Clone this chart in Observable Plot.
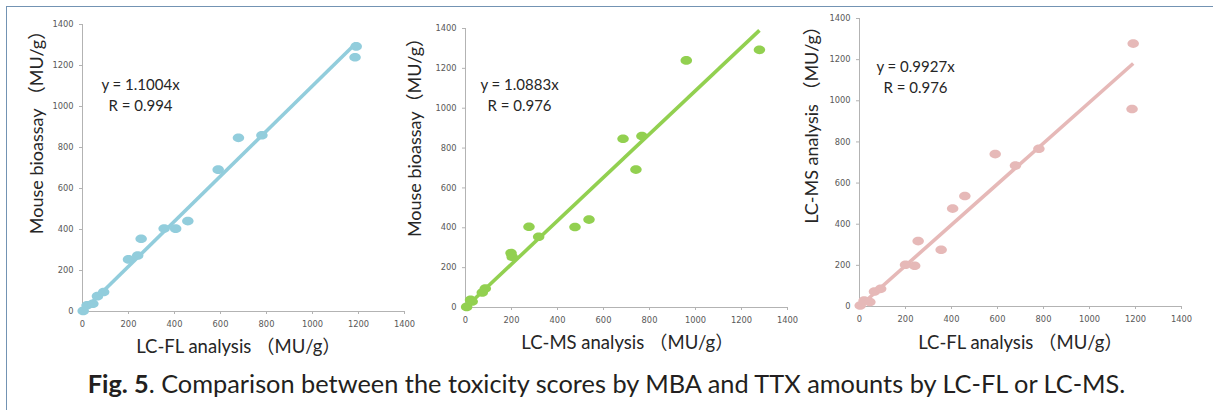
<!DOCTYPE html>
<html>
<head>
<meta charset="utf-8">
<script src="https://cdn.jsdelivr.net/npm/d3@7"></script>
<script src="https://cdn.jsdelivr.net/npm/@observablehq/plot@0.6"></script>
<style>
  html, body { margin: 0; padding: 0; background: #fff; }
  #wrap { position: relative; width: 1213px; height: 410px; overflow: hidden; }
  #frame { position: absolute; left: 6px; top: 6px; width: 1220px; height: 420px;
           border-top: 1.5px solid #7393b3; border-left: 1.5px solid #7393b3; }
  .panel { position: absolute; left: 0; top: 0; }
  #caption { position: absolute; left: 0; top: 368px; width: 1213px; height: 30px; text-align: center;
             font-family: Lato, "Open Sans", sans-serif; font-size: 24px; line-height: 30px; color: #231f20; white-space: nowrap; }
</style>
</head>
<body>
<div id="wrap">
  <div id="frame"></div>
  <div id="caption"><span id="capText"><b>Fig. 5</b>. Comparison between the toxicity scores by MBA and TTX amounts by LC-FL or LC-MS.</span></div>
</div>
<script>
// ---- data (samples) ----
const lcfl = [3, 20, 45, 65, 92, 200, 240, 255, 355, 405, 458, 590, 678, 780, 1185, 1190];
const lcms = [5, 29, 22, 73, 86, 203, 198, 318, 276, 476, 537, 741, 685, 767, 960, 1278];
const mba  = [3, 30, 38, 75, 95, 254, 273, 355, 405, 404, 441, 692, 847, 860, 1240, 1293];
const tickValues = [0, 200, 400, 600, 800, 1000, 1200, 1400];
const slopes = [1.1004, 1.0883, 0.9927];
const rValues = ["0.994", "0.976", "0.976"];
const xLabels = ["LC-FL analysis （MU/g）", "LC-MS analysis （MU/g）", "LC-FL analysis （MU/g）"];
const yLabels = ["Mouse bioassay （MU/g）", "Mouse bioassay（MU/g）", "LC-MS analysis （MU/g）"];
const colors = ["#92cddc", "#92d050", "#e6b9b8"];
const xSeries = [lcfl, lcms, lcfl];
const ySeries = [mba, mba, lcms];

// ---- layout ----
const W = 1213, H = 362;
const layouts = [
  {ml: 82,  mr: W - 404,  mt: 24, mb: H - 311, ylx: -45, yly: -40, xlx: -5, xly: 36, ax: 58, ay: 69},
  {ml: 465, mr: W - 787,  mt: 28, mb: H - 307, ylx: -50, yly: -35, xlx: 1,  xly: 36, ax: 54, ay: 65.5},
  {ml: 859, mr: W - 1181, mt: 18, mb: H - 306, ylx: -47, yly: -42, xlx: 0,  xly: 37, ax: 56, ay: 57.5}
];

const ellipse = {
  draw(ctx, size) {
    const r = Math.sqrt(size / Math.PI), rx = r * 1.2, ry = r * 0.9, k = 0.5523;
    ctx.moveTo(rx, 0);
    ctx.bezierCurveTo(rx, ry * k, rx * k, ry, 0, ry);
    ctx.bezierCurveTo(-rx * k, ry, -rx, ry * k, -rx, 0);
    ctx.bezierCurveTo(-rx, -ry * k, -rx * k, -ry, 0, -ry);
    ctx.bezierCurveTo(rx * k, -ry, rx, -ry * k, rx, 0);
    ctx.closePath();
  }
};

const labelFont = "Lato, 'Noto Sans CJK JP', sans-serif";
const wrap = document.getElementById("wrap");

layouts.forEach((L, i) => {
  const xs = xSeries[i], ys = ySeries[i];
  const pts = xs.map((x, j) => ({x, y: ys[j]}));
  const xmax = d3.max(xs);
  const trend = [{x: 0, y: 0}, {x: xmax, y: slopes[i] * xmax}];
  const chart = Plot.plot({
    width: W, height: H,
    marginLeft: L.ml, marginRight: L.mr, marginTop: L.mt, marginBottom: L.mb,
    x: {domain: [0, 1400]},
    y: {domain: [0, 1400]},
    style: {fontFamily: "'DejaVu Sans', sans-serif", fontSize: "8.3px", color: "#595959", background: "transparent", overflow: "visible"},
    marks: [
      Plot.ruleY([0], {stroke: "#b3b3b3", strokeWidth: 1}),
      Plot.ruleX([0], {stroke: "#b3b3b3", strokeWidth: 1}),
      Plot.axisX({ticks: tickValues, tickSize: 3, tickPadding: 7, stroke: "#b3b3b3", fill: "#595959", label: null, tickFormat: d => String(d)}),
      Plot.axisY({ticks: tickValues, tickSize: 3, tickPadding: 6, stroke: "#b3b3b3", fill: "#595959", label: null, tickFormat: d => String(d)}),
      Plot.line(trend, {x: "x", y: "y", stroke: colors[i], strokeWidth: 3.6, strokeLinecap: "butt"}),
      Plot.dot(pts, {x: "x", y: "y", r: 4.8, symbol: ellipse, fill: colors[i], stroke: "none"}),
      Plot.text([`y = ${slopes[i]}x\nR = ${rValues[i]}`], {text: d => d, frameAnchor: "top-left", dx: L.ax, dy: L.ay,
        textAnchor: "middle", lineAnchor: "middle", lineHeight: 1.4, fontSize: 15, fontFamily: labelFont, fill: "#262626"}),
      Plot.text([yLabels[i]], {text: d => d, frameAnchor: "left", rotate: -90, dx: L.ylx, dy: L.yly,
        textAnchor: "middle", lineAnchor: "middle", fontSize: 18, fontFamily: labelFont, fill: "#262626"}),
      Plot.text([xLabels[i]], {text: d => d, frameAnchor: "bottom", dx: L.xlx, dy: L.xly,
        textAnchor: "middle", lineAnchor: "middle", fontSize: 18.5, fontFamily: labelFont, fill: "#262626"})
    ]
  });
  chart.classList.add("panel");
  wrap.appendChild(chart);
});

// fit caption width to the reference span (~1038px)
const cap = document.getElementById("capText");
const capBox = document.getElementById("caption");
const w0 = cap.getBoundingClientRect().width;
if (w0 > 0) capBox.style.fontSize = (24 * 1038 / w0).toFixed(2) + "px";
</script>
</body>
</html>
